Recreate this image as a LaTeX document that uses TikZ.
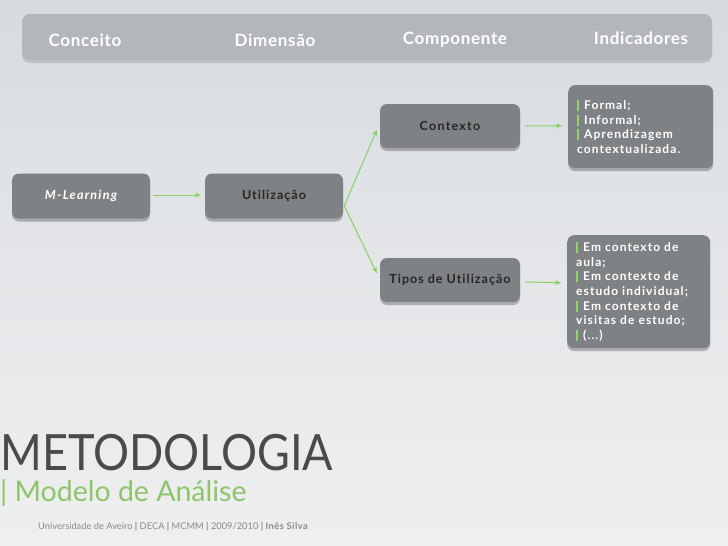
\documentclass[tikz,border=0pt]{standalone}
\usepackage{fontspec}
\setmainfont{Lato}[Ligatures={NoCommon,NoRare}]
\usetikzlibrary{calc,shadows,arrows.meta}
\definecolor{bgtop}{HTML}{D6DBE0}
\definecolor{bgmid}{HTML}{E4E6E9}
\definecolor{bgbot}{HTML}{EFEFEF}
\definecolor{barfill}{HTML}{B3B7BB}
\definecolor{boxfill}{HTML}{7F8285}
\definecolor{arrowg}{HTML}{86D160}
\definecolor{barg}{HTML}{8ED46A}
\definecolor{titlegray}{HTML}{4A4A4A}
\definecolor{subg}{HTML}{8CC56C}
\definecolor{footgray}{HTML}{8A8A8A}
\newcommand{\gbar}{\textcolor{barg}{\rule[-1.5pt]{2pt}{11pt}}\hspace{5pt}}
\tikzset{
  gbox/.style={fill=boxfill, rounded corners=7pt, draw=none,
    drop shadow={shadow xshift=0pt, shadow yshift=-3pt, opacity=0.25, fill=black},
    font=\bfseries\addfontfeatures{LetterSpace=8}\fontsize{12.5}{14}\selectfont},
  darktext/.style={text=black!85},
  lighttext/.style={text=white},
  indbox/.style={gbox, text=white, align=left, anchor=north west, inner xsep=9pt, inner ysep=5pt,
    font=\bfseries\addfontfeatures{LetterSpace=9}\fontsize{12}{14.6}\selectfont},
  garrow/.style={draw=arrowg, line width=1pt, -{Stealth[length=6pt,width=5pt]}},
  hdr/.style={text=white, font=\bfseries\addfontfeatures{LetterSpace=4}\fontsize{17}{19}\selectfont}
}
\begin{document}
\begin{tikzpicture}[x=1pt,y=-1pt]
\useasboundingbox (0,0) rectangle (728,546);
% background
\shade[top color=bgtop, bottom color=bgbot, middle color=bgmid] (0,0) rectangle (728,546);
% header bar
\node[fill=barfill, rounded corners=8pt, minimum width=690pt, minimum height=46pt,
  drop shadow={shadow xshift=0pt, shadow yshift=-3pt, opacity=0.12, fill=black}] (hdrbar) at (367,37) {};
\node[hdr] (h1) at (85,40) {Conceito};
\node[hdr] (h2) at (275,40) {Dimensão};
\node[hdr] (h3) at (455,40) {Componente};
\node[hdr] (h4) at (641,38) {Indicadores};
% boxes
\node[gbox, lighttext, minimum width=138pt, minimum height=45pt, font=\bfseries\itshape\addfontfeatures{LetterSpace=10}\fontsize{12.5}{14}\selectfont] (ml) at (81,196) {M-Learning};
\node[gbox, darktext, minimum width=138pt, minimum height=45pt] (util) at (274,196) {Utilização};
\node[gbox, darktext, minimum width=140pt, minimum height=44pt, font=\bfseries\addfontfeatures{LetterSpace=10}\fontsize{12.5}{14}\selectfont] (ctx) at (450,126) {Contexto};
\node[gbox, darktext, minimum width=140pt, minimum height=44pt] (tipos) at (450,280) {Tipos de Utilização};
\node[indbox, minimum width=145pt, minimum height=83pt, text width=127pt] (ind1) at (568,85)
  {\gbar Formal;\\ \gbar Informal;\\ \gbar Aprendizagem\\ contextualizada.};
\node[indbox, minimum width=143pt, minimum height=113pt, text width=125pt] (ind2) at (567,235)
  {\gbar Em contexto de\\ aula;\\ \gbar Em contexto de\\ estudo individual;\\ \gbar Em contexto de\\ visitas de estudo;\\ \gbar (...)};
% arrows
\coordinate (fork) at ($(util.east)+(1,10)$);
\draw[garrow] ($(ml.east)+(3,-1)$) -- ($(util.west)+(-4,-1)$);
\draw[garrow] (fork) -- ($(ctx.west)+(-3,4)$);
\draw[garrow] (fork) -- ($(tipos.west)+(-3,-7)$);
\draw[garrow] ($(ctx.east)+(5,0)$) -- ($(ind1.west)+(-6,-1)$);
\draw[garrow] ($(tipos.east)+(5,2)$) -- ($(ind2.west)+(-6,-9)$);
% title
\node[anchor=base west, inner sep=0pt, text=titlegray, font=\fontsize{50}{52}\selectfont] (title) at (0,470) {\scalebox{0.9}[1]{METODOLOGIA}};
\node[anchor=base west, inner sep=0pt, text=subg, font=\fontsize{28.5}{30}\selectfont] (sub) at (0,501) {| Modelo de Análise};
\node[anchor=base west, inner sep=0pt, text=footgray, font=\fontsize{9.3}{11}\selectfont] (foot) at (38,529)
  {Universidade de Aveiro \textbf{|} DECA \textbf{|} MCMM \textbf{|} 2009/2010 \textbf{|} \textbf{\addfontfeatures{LetterSpace=5}Inês Silva}};
\end{tikzpicture}
\end{document}
